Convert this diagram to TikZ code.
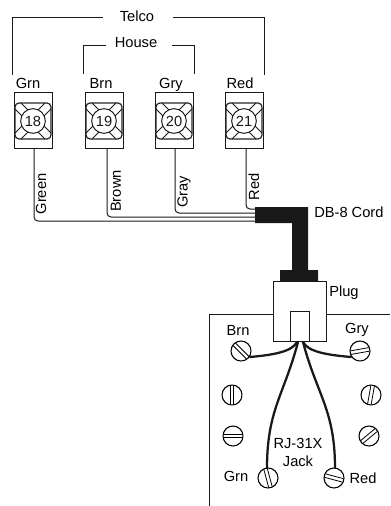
\documentclass[tikz,border=0pt]{standalone}
\usepackage{fontspec}
\setmainfont{Liberation Sans}
\usetikzlibrary{calc}
\tikzset{
	lbl/.style={font=\fontsize{11}{13}\selectfont, inner sep=0pt, anchor=base},
	wirelbl/.style={font=\fontsize{11}{13}\selectfont, inner sep=0pt, rotate=90},
	thinline/.style={line width=0.75pt, color=black!90},
	jackwire/.style={line width=1.7pt, color=black!90, line cap=round},
	cordfill/.style={fill=black!90, draw=none},
}
% terminal block, centre x and number
\def\terminal(#1)#2{
	\draw[thinline] ($(#1)+(-19,0)$) rectangle ($(#1)+(19,55)$);
	\draw[line width=0.9pt, color=black!85, rounded corners=3] ($(#1)+(-18,10)$) rectangle ($(#1)+(18,46)$);
	\foreach \sx in {-1,1} \foreach \sy in {-1,1} {
		\draw[thinline] ($(#1)+(\sx*18,28+\sy*12)$) -- ($(#1)+(\sx*11,28+\sy*5)$);
		\draw[thinline] ($(#1)+(\sx*12,28+\sy*18)$) -- ($(#1)+(\sx*5,28+\sy*11)$);
	}
	\node[draw, thinline, fill=white, circle, minimum size=18.5, inner sep=0pt, font=\fontsize{11}{13}\selectfont] at ($(#1)+(0,28)$) {#2};
}
% screw head, centre, radius 10 and slot angle
\def\screw(#1)#2{
	\draw[line width=0.8pt, fill=white] (#1) circle (10);
	\draw[line width=0.6pt, rotate around={#2:(#1)}] ($(#1)+(-9.2,-1.8)$) -- ($(#1)+(9.2,-1.8)$);
	\draw[line width=0.6pt, rotate around={#2:(#1)}] ($(#1)+(-9.2,1.8)$) -- ($(#1)+(9.2,1.8)$);
}

\begin{document}
\begin{tikzpicture}[x=0.75pt, y=-0.75pt]
	\useasboundingbox (0,0) rectangle (390,506);

	% brackets
	\draw[thinline] (12,75) -- (12,18) -- (103,18);
	\draw[thinline] (173,18) -- (264,18) -- (264,75);
	\node[lbl] at (137,22) {Telco};
	\draw[thinline] (83,74) -- (83,46) -- (106,46);
	\draw[thinline] (172,46) -- (194,46) -- (194,74);
	\node[lbl] at (136,48) {House};

	% terminals
	\terminal(33,93){18}
	\terminal(104,93){19}
	\terminal(174,93){20}
	\terminal(244,93){21}
	\node[lbl] at (28,89) {Grn};
	\node[lbl] at (101,89) {Brn};
	\node[lbl] at (171,89) {Gry};
	\node[lbl] at (240,89) {Red};

	% wires
	\draw[thinline, rounded corners=3] (34,148) -- (34,221) -- (255,221);
	\draw[thinline, rounded corners=3] (107,148) -- (107,217) -- (255,217);
	\draw[thinline, rounded corners=3] (175,148) -- (175,213) -- (255,213);
	\draw[thinline, rounded corners=3] (246,148) -- (246,209) -- (255,209);
	\node[wirelbl] at (41,194) {Green};
	\node[wirelbl] at (116,191) {Brown};
	\node[wirelbl] at (184,192) {Gray};
	\node[wirelbl] at (254,187) {Red};

	% cord and plug
	\fill[cordfill] (255,207) -- (308,207) -- (308,270) -- (318,270) -- (318,281) -- (280,281) -- (280,270) -- (292,270) -- (292,223) -- (255,223) -- cycle;
	\node[lbl, anchor=base west] at (314,217) {DB-8 Cord};
	\draw[thinline] (209,506) -- (209,314) -- (273,314);
	\draw[thinline] (326,314) -- (390,314);
	\draw[thinline] (273,281) rectangle (326,341);
	\draw[thinline] (290,311) rectangle (309,341);
	\node[lbl, anchor=base west] at (329,296) {Plug};

	% jack wires
	\draw[jackwire] (297,342) .. controls (292,352) and (272,355) .. (250,357);
	\draw[jackwire] (303,342) .. controls (308,352) and (328,355) .. (351,357);
	\draw[jackwire] (298,342) .. controls (284,395) and (267,410) .. (267,468);
	\draw[jackwire] (303,342) .. controls (317,395) and (335,410) .. (335,468);

	% screws
	\screw(241,351){-45}
	\screw(360,351){10}
	\screw(232,395){90}
	\screw(371,395){80}
	\screw(233,436){0}
	\screw(369,436){40}
	\screw(268,478){-75}
	\screw(334,478){-15}

	\node[lbl] at (238,335) {Brn};
	\node[lbl] at (357,333) {Gry};
	\node[lbl] at (298,448) {RJ-31X};
	\node[lbl] at (298,466) {Jack};
	\node[lbl] at (236,481) {Grn};
	\node[lbl] at (363,483) {Red};
\end{tikzpicture}
\end{document}
